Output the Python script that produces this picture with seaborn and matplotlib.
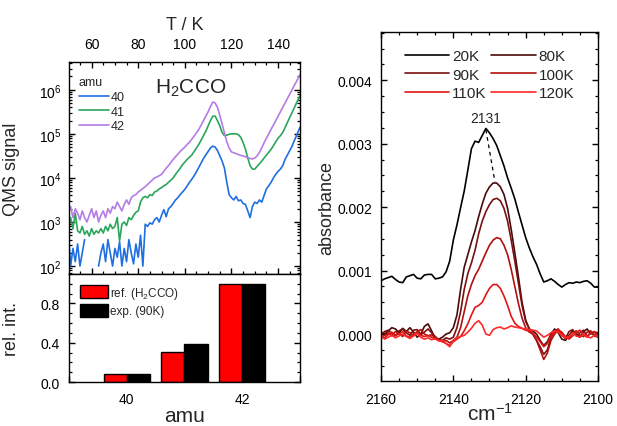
import numpy as np
import pandas as pd
import matplotlib
matplotlib.use("Agg")
import matplotlib.pyplot as plt
from matplotlib.ticker import (MultipleLocator, LogLocator, FixedLocator,
                               FormatStrFormatter, NullFormatter)
import seaborn as sns

# ---------------- TPD: QMS signal (log10) vs temperature ----------------
temperature_K = np.arange(50, 151)
nan = np.nan
log_qms_40 = [
    2.75, 2.00, 2.40, 2.10, 2.50, 2.00, 2.30, 2.60, nan, nan,
    nan, nan, nan, 2.00, 2.30, 2.50, 2.10, 2.60, 2.30, 2.00,
    2.40, 2.20, 2.55, 2.00, 2.40, 2.10, 2.60, 2.30, 2.05, 2.50,
    2.20, 2.70, 2.00, 2.95, 2.90, 2.98, 2.95, 3.05, 3.10, 3.00,
    3.15, 3.28, 3.12, 3.30, 3.35, 3.42, 3.50, 3.55, 3.62, 3.68,
    3.74, 3.82, 3.90, 3.97, 4.05, 4.14, 4.24, 4.34, 4.44, 4.52,
    4.60, 4.68, 4.72, 4.70, 4.62, 4.50, 4.38, 4.22, 3.90, 3.62,
    3.55, 3.50, 3.58, 3.48, 3.50, 3.42, 3.40, 3.25, 3.10, 3.35,
    3.45, 3.42, 3.50, 3.45, 3.60, 3.75, 3.82, 3.90, 4.00, 4.08,
    4.15, 4.20, 4.28, 4.42, 4.52, 4.62, 4.72, 4.85, 4.97, 5.10,
    5.20]
log_qms_41 = [
    2.95, 3.10, 2.85, 3.20, 2.80, 2.75, 2.90, 2.72, 2.80, 2.68,
    2.85, 2.72, 2.80, 2.75, 2.85, 2.75, 2.90, 2.80, 2.95, 2.85,
    2.90, 3.10, 2.57, 2.95, 3.00, 2.92, 3.10, 3.05, 3.15, 3.22,
    3.25, 3.45, 3.55, 3.58, 3.55, 3.62, 3.60, 3.68, 3.70, 3.75,
    3.78, 3.82, 3.85, 3.90, 3.95, 4.00, 4.08, 4.15, 4.22, 4.30,
    4.36, 4.42, 4.47, 4.52, 4.60, 4.68, 4.76, 4.86, 4.96, 5.06,
    5.18, 5.30, 5.40, 5.40, 5.30, 5.18, 5.03, 4.96, 4.97, 4.99,
    5.00, 5.00, 5.00, 4.98, 4.92, 4.80, 4.65, 4.45, 4.28, 4.20,
    4.20, 4.26, 4.32, 4.38, 4.45, 4.52, 4.58, 4.65, 4.73, 4.82,
    4.90, 4.96, 5.03, 5.14, 5.26, 5.37, 5.48, 5.60, 5.71, 5.82,
    5.92]
log_qms_42 = [
    3.20, 3.35, 3.10, 3.30, 3.20, 3.05, 3.25, 3.10, 3.00, 3.15,
    3.30, 3.10, 3.25, 3.00, 3.15, 3.25, 3.10, 3.30, 3.20, 3.35,
    3.30, 3.45, 3.35, 3.25, 3.40, 3.50, 3.40, 3.55, 3.60, 3.62,
    3.68, 3.72, 3.76, 3.80, 3.85, 3.90, 3.95, 4.00, 4.02, 4.05,
    4.08, 4.15, 4.22, 4.28, 4.35, 4.42, 4.48, 4.54, 4.60, 4.65,
    4.70, 4.76, 4.81, 4.88, 4.95, 5.02, 5.10, 5.20, 5.30, 5.40,
    5.50, 5.62, 5.72, 5.70, 5.60, 5.42, 5.22, 5.02, 4.82, 4.68,
    4.59, 4.57, 4.55, 4.53, 4.51, 4.50, 4.48, 4.46, 4.44, 4.43,
    4.45, 4.50, 4.58, 4.68, 4.80, 4.90, 5.00, 5.10, 5.20, 5.30,
    5.40, 5.50, 5.60, 5.70, 5.80, 5.90, 6.00, 6.10, 6.20, 6.30,
    6.40]
amu_masses = [40, 41, 42]
amu_colors = ["#1f6fe0", "#2aa55a", "#b57ce6"]

# ---------------- relative intensities of the mass fragments ----------------
bar_sources = ["ref. (H$_2$CCO)", "exp. (90K)"]
rel_int_ref = [0.08, 0.31, 1.00]
rel_int_exp = [0.08, 0.39, 1.00]

# ---------------- IR spectra (absorbance x 1e3) ----------------
wavenumber = np.arange(2160, 2099, -1)
spectra_labels = ["20K", "80K", "90K", "100K", "110K", "120K"]
spectra_colors = ["#000000", "#4a0a0a", "#7a1010", "#b01010", "#e01515", "#ff2a2a"]
mabs_20K = [
    0.84, 0.87, 0.89, 0.91, 0.86, 0.82, 0.81, 0.90, 0.92, 0.94,
    0.88, 0.87, 0.93, 0.94, 0.94, 0.87, 0.88, 0.90, 0.98, 1.15,
    1.48, 1.72, 1.99, 2.25, 2.58, 2.92, 3.04, 3.02, 3.13, 3.24,
    3.17, 3.08, 2.97, 2.81, 2.65, 2.46, 2.30, 2.13, 1.92, 1.72,
    1.52, 1.36, 1.22, 1.10, 0.95, 0.82, 0.84, 0.87, 0.83, 0.78,
    0.74, 0.78, 0.81, 0.80, 0.82, 0.81, 0.83, 0.84, 0.80, 0.74,
    0.74]
mabs_80K = [
    0.03, 0.00, 0.05, 0.10, 0.08, 0.02, 0.09, 0.04, 0.10, 0.03,
    -0.05, 0.00, 0.12, 0.16, 0.05, -0.08, -0.08, -0.05, 0.00, 0.02,
    0.10, 0.30, 0.70, 1.05, 1.25, 1.45, 1.63, 1.85, 2.05, 2.22,
    2.32, 2.38, 2.38, 2.32, 2.20, 1.98, 1.65, 1.28, 0.90, 0.50,
    0.22, 0.08, 0.05, 0.00, -0.10, -0.18, -0.12, 0.00, 0.08,
    0.02, -0.08, -0.10, -0.02, 0.05, 0.00, -0.05, 0.04, 0.08, 0.00, 0.03, 0.02]
mabs_90K = [
    -0.02, 0.04, 0.06, 0.01, -0.03, 0.05, 0.08, 0.02, -0.02, 0.06,
    0.07, -0.01, 0.03, 0.08, 0.02, -0.04, -0.09, -0.10, -0.06, -0.08,
    -0.05, 0.10, 0.35, 0.70, 0.95, 1.12, 1.32, 1.58, 1.78, 1.93,
    2.04, 2.12, 2.14, 2.10, 1.98, 1.78, 1.48, 1.15, 0.80, 0.45,
    0.20, 0.08, 0.00, -0.10, -0.20, -0.32, -0.25, -0.05, 0.05,
    0.08, -0.02, -0.07, 0.04, 0.07, -0.03, 0.02, 0.06, -0.04, 0.03, -0.02, 0.01]
mabs_100K = [
    -0.05, -0.02, 0.02, -0.03, 0.04, 0.01, -0.04, 0.05, 0.02, -0.02,
    0.04, 0.07, 0.00, -0.03, -0.01, -0.06, -0.09, -0.12, -0.10, -0.14,
    -0.10, -0.05, 0.10, 0.35, 0.60, 0.78, 0.92, 1.02, 1.15, 1.28,
    1.40, 1.48, 1.52, 1.50, 1.40, 1.25, 1.02, 0.75, 0.48, 0.25,
    0.10, 0.03, 0.00, -0.10, -0.25, -0.40, -0.30, -0.10, 0.00,
    0.06, 0.03, -0.05, -0.06, 0.02, 0.05, -0.02, -0.04, 0.03, 0.05, -0.03, -0.05]
mabs_110K = [
    -0.04, -0.06, -0.01, 0.03, -0.02, 0.00, 0.04, -0.03, -0.05, 0.00,
    0.03, -0.02, -0.04, -0.02, -0.05, -0.08, -0.10, -0.12, -0.15, -0.18,
    -0.12, -0.08, -0.04, 0.05, 0.16, 0.30, 0.42, 0.45, 0.50, 0.62,
    0.72, 0.78, 0.78, 0.72, 0.60, 0.45, 0.28, 0.17, 0.12, 0.09,
    0.06, 0.05, 0.02, -0.05, -0.12, -0.20, -0.15, -0.03, 0.04,
    0.07, 0.02, -0.04, -0.08, -0.03, 0.03, 0.06, -0.01, -0.05, 0.02, 0.04, -0.03]
mabs_120K = [
    -0.03, -0.08, -0.05, -0.02, -0.06, -0.03, 0.00, -0.04, -0.07, -0.03,
    0.01, -0.05, -0.08, -0.06, -0.09, -0.07, -0.11, -0.10, -0.15, -0.20,
    -0.10, -0.06, -0.04, -0.02, 0.03, 0.09, 0.17, 0.21, 0.14, 0.00,
    -0.02, 0.07, 0.10, 0.11, 0.08, 0.10, 0.13, 0.11, 0.10, 0.09,
    0.08, 0.07, 0.06, 0.05, 0.00, -0.05, -0.02, 0.02, 0.05,
    0.03, -0.02, -0.06, -0.04, 0.02, -0.03, -0.05, 0.00, -0.04, -0.06, -0.02, -0.04]
peak_label = "2131"
peak_shift = [(2131.0, 3.22), (2128.5, 2.40)]

# ---------------- style ----------------
sns.set_theme(style="ticks")
plt.rcParams.update({
    "font.family": ["Liberation Sans", "DejaVu Sans"],
    "mathtext.fontset": "custom",
    "mathtext.rm": "Liberation Sans",
    "mathtext.it": "Liberation Sans:italic",
    "mathtext.bf": "Liberation Sans:bold",
    "axes.linewidth": 1.0,
    "axes.edgecolor": "black",
    "xtick.direction": "in", "ytick.direction": "in",
    "xtick.major.size": 4.5, "ytick.major.size": 4.5,
    "xtick.minor.size": 2.5, "ytick.minor.size": 2.5,
    "xtick.major.width": 1.0, "ytick.major.width": 1.0,
    "xtick.minor.width": 0.9, "ytick.minor.width": 0.9,
    "xtick.color": "black", "ytick.color": "black",
    "xtick.labelsize": 10, "ytick.labelsize": 10,
})

fig = plt.figure(figsize=(6.17, 4.27), dpi=100)
ax_tpd = fig.add_axes([0.1118, 0.356, 0.3744, 0.4965])
ax_bar = fig.add_axes([0.1118, 0.103, 0.3744, 0.253])
ax_ir = fig.add_axes([0.6175, 0.1054, 0.3517, 0.8173])

# ---- TPD traces ----
rows = []
for m, logs in zip(amu_masses, (log_qms_40, log_qms_41, log_qms_42)):
    seg = 0
    for T, lv in zip(temperature_K, logs):
        if np.isnan(lv):
            seg += 1
            continue
        rows.append({"T": T, "signal": 10.0 ** lv, "amu": str(m), "seg": f"{m}-{seg}"})
qms = pd.DataFrame(rows)
ax_tpd.set_yscale("log")
sns.lineplot(data=qms, x="T", y="signal", hue="amu", units="seg", estimator=None,
             palette=amu_colors, hue_order=[str(m) for m in amu_masses],
             linewidth=1.2, ax=ax_tpd)
ax_tpd.set_xlim(50.3, 149.4)
ax_tpd.set_ylim(10 ** 1.82, 10 ** 6.63)
ax_tpd.yaxis.set_major_locator(LogLocator(base=10, numticks=10))
ax_tpd.yaxis.set_minor_locator(LogLocator(base=10, subs=np.arange(2, 10), numticks=20))
ax_tpd.yaxis.set_minor_formatter(NullFormatter())
ax_tpd.xaxis.set_major_locator(MultipleLocator(20))
ax_tpd.xaxis.set_minor_locator(MultipleLocator(5))
ax_tpd.tick_params(which="both", top=True, bottom=True, right=True, left=True,
                   labeltop=True, labelbottom=False)
ax_tpd.tick_params(axis="x", which="major", pad=8)
ax_tpd.tick_params(axis="y", which="major", pad=5.5)
ax_tpd.xaxis.set_label_position("top")
ax_tpd.set_xlabel("T / K", fontsize=13, labelpad=6)
ax_tpd.set_ylabel("QMS signal", fontsize=13)
ax_tpd.yaxis.set_label_coords(-0.21, 0.5)
ax_tpd.text(0.525, 0.88, "H$_2$CCO", transform=ax_tpd.transAxes, fontsize=15,
            ha="center", va="center")
sns.move_legend(ax_tpd, "upper left", bbox_to_anchor=(0.0, 0.98), frameon=False,
                title="amu", fontsize=9, title_fontsize=9, handlelength=2.4,
                handletextpad=0.1, labelspacing=0.22, alignment="left",
                borderaxespad=0.4)

# ---- relative intensity bars ----
bars = pd.DataFrame({
    "amu": amu_masses * 2,
    "rel": rel_int_ref + rel_int_exp,
    "source": [bar_sources[0]] * 3 + [bar_sources[1]] * 3,
})
sns.barplot(data=bars, x="amu", y="rel", hue="source", hue_order=bar_sources,
            native_scale=True, palette=["#ff0000", "#000000"], saturation=1,
            edgecolor="black", linewidth=1.0, width=0.8, gap=0, ax=ax_bar)
ax_bar.set_xlim(39, 43)
ax_bar.set_ylim(0, 1.1)
ax_bar.xaxis.set_major_locator(FixedLocator([39, 40, 41, 42, 43]))
ax_bar.set_xticklabels(["", "40", "", "42", ""])
ax_bar.yaxis.set_major_locator(MultipleLocator(0.4))
ax_bar.yaxis.set_minor_locator(MultipleLocator(0.1))
ax_bar.yaxis.set_major_formatter(FormatStrFormatter("%.1f"))
ax_bar.tick_params(which="both", right=True, left=True, top=False, bottom=True)
ax_bar.tick_params(axis="x", which="minor", bottom=False)
ax_bar.tick_params(axis="x", which="major", pad=7)
ax_bar.tick_params(axis="y", which="major", pad=6.5)
ax_bar.set_xlabel("amu", fontsize=15, labelpad=0)
ax_bar.set_ylabel("rel. int.", fontsize=13)
ax_bar.yaxis.set_label_coords(-0.21, 0.5)
sns.move_legend(ax_bar, "upper left", bbox_to_anchor=(0.0, 1.0), frameon=False,
                title=None, fontsize=8.5, handlelength=2.4, handleheight=1.25,
                handletextpad=0.2, labelspacing=0.3, borderaxespad=0.5)

# ---- IR spectra ----
spec_rows = []
for lab, vals in zip(spectra_labels, (mabs_20K, mabs_80K, mabs_90K,
                                      mabs_100K, mabs_110K, mabs_120K)):
    for w, v in zip(wavenumber, vals):
        spec_rows.append({"wn": w, "absorbance": v * 1e-3, "temp": lab})
spec = pd.DataFrame(spec_rows)
sns.lineplot(data=spec, x="wn", y="absorbance", hue="temp", hue_order=spectra_labels,
             palette=spectra_colors, linewidth=1.2, estimator=None, ax=ax_ir)
ax_ir.plot([p[0] for p in peak_shift], [p[1] * 1e-3 for p in peak_shift],
           color="black", linestyle=(0, (3, 3)), linewidth=0.9)
ax_ir.text(2131, 3.30e-3, peak_label, ha="center", va="bottom", fontsize=10)
ax_ir.set_xlim(2160, 2100)
ax_ir.set_ylim(-0.00074, 0.00476)
ax_ir.xaxis.set_major_locator(MultipleLocator(20))
ax_ir.xaxis.set_minor_locator(MultipleLocator(5))
ax_ir.yaxis.set_major_locator(MultipleLocator(0.001))
ax_ir.yaxis.set_minor_locator(MultipleLocator(0.00025))
ax_ir.yaxis.set_major_formatter(FormatStrFormatter("%.3f"))
ax_ir.tick_params(which="both", top=True, right=True, left=True, bottom=True)
ax_ir.tick_params(axis="x", which="major", pad=8)
ax_ir.tick_params(axis="y", which="major", pad=6.5)
ax_ir.set_xlabel("cm$^{-1}$", fontsize=15, labelpad=-3)
ax_ir.set_ylabel("absorbance", fontsize=13)
ax_ir.yaxis.set_label_coords(-0.21, 0.5)

leg = ax_ir.get_legend()
handles = list(leg.legend_handles)
labels = [t.get_text() for t in leg.get_texts()]
leg.remove()
order = [0, 2, 4, 1, 3, 5]
ax_ir.legend([handles[i] for i in order], [labels[i] for i in order], ncol=2,
             loc="upper center", bbox_to_anchor=(0.5, 0.99), frameon=False,
             fontsize=11, handlelength=2.9, handletextpad=0.2,
             columnspacing=0.3, labelspacing=0.3)

fig.savefig("out.png", dpi=100)
